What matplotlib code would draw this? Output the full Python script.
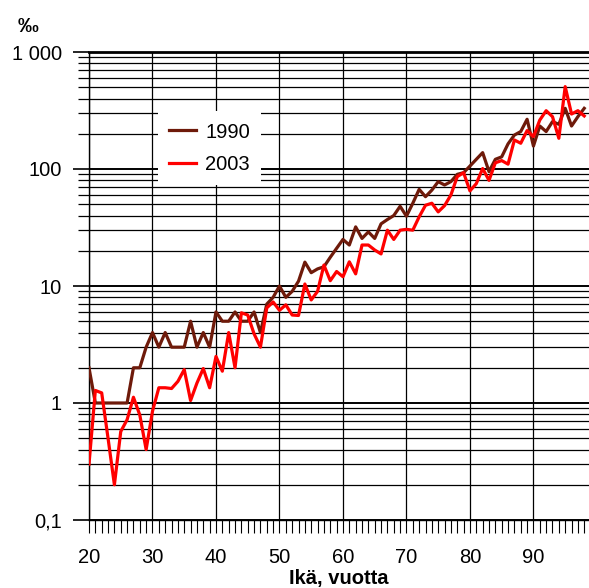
import numpy as np
import matplotlib
matplotlib.use("Agg")
import matplotlib.pyplot as plt
from matplotlib.ticker import FixedLocator, NullFormatter, LogLocator

plt.rcParams['font.family'] = ['Liberation Sans', 'DejaVu Sans']

# Age, years
ages = list(range(20, 99))

# Rate per mille, 1990
rate_1990 = [2, 1, 1, 1, 1, 1, 1, 2, 2, 3,
             4, 3, 4, 3, 3, 3, 5, 3, 4, 3,
             6, 5, 5, 6, 5, 5, 6, 4, 7, 8,
             10, 8, 9, 11, 16, 13, 14, 14.6, 17.6, 21,
             25, 22.4, 32, 25.5, 29, 25.5, 34, 37, 40, 48,
             39.5, 51, 67, 58, 66, 78, 73, 78, 90, 93,
             106, 121, 138, 95, 121, 127, 164, 195, 209, 266,
             157, 233, 209, 254, 241, 330, 233, 280, 330]

# Rate per mille, 2003
rate_2003 = [0.3, 1.28, 1.22, 0.5, 0.2, 0.57, 0.72, 1.12, 0.79, 0.4,
             0.85, 1.35, 1.35, 1.33, 1.53, 1.93, 1.05, 1.48, 1.97, 1.35,
             2.5, 1.87, 4.0, 2.0, 5.9, 5.65, 3.9, 3.0, 6.5, 7.3,
             6.2, 6.9, 5.65, 5.6, 10.4, 7.6, 9.0, 15.1, 11.1, 13.3,
             12.0, 16.1, 12.7, 22.4, 22.4, 20.3, 18.8, 30, 25, 30,
             30.5, 30, 39, 49, 51, 43, 48.6, 60, 86, 93,
             65, 75, 101, 80, 113, 118, 110, 177, 166, 213,
             189, 262, 315, 280, 183, 506, 295, 315, 284]

y_ticks = [0.1, 1, 10, 100, 1000]
y_tick_labels = ['0,1', '1', '10', '100', '1 000']
x_ticks = [20, 30, 40, 50, 60, 70, 80, 90]

fig = plt.figure(figsize=(5.89, 5.88), dpi=100)
ax = fig.add_axes([89 / 589, 1 - 520 / 588, 500 / 589, 468 / 588])

ax.plot(ages, rate_1990, color='#6e1a0a', lw=2.3, label='1990', zorder=3)
ax.plot(ages, rate_2003, color='#ff0000', lw=2.3, label='2003', zorder=3)

ax.set_yscale('log')
ax.set_ylim(0.1, 1000)
ax.set_xlim(20, 98.75)

# y axis: decades + every minor value
ax.yaxis.set_major_locator(FixedLocator(y_ticks))
ax.set_yticklabels(y_tick_labels)
ax.yaxis.set_minor_locator(LogLocator(base=10, subs=np.arange(2, 10)))
ax.yaxis.set_minor_formatter(NullFormatter())
ax.tick_params(axis='y', which='major', length=11.5, width=1.2, pad=8, labelsize=14.5)
ax.tick_params(axis='y', which='minor', length=8, width=0.9)

# x axis: labels every 10, ticks every year
ax.set_xticks(x_ticks)
ax.xaxis.set_minor_locator(FixedLocator([a for a in range(21, 99) if a % 10]))
ax.tick_params(axis='x', which='both', length=9.5, width=0.8, pad=11, labelsize=14.5)

ax.grid(True, which='major', axis='y', color='black', lw=1.4)
ax.grid(True, which='minor', axis='y', color='black', lw=0.9)
ax.grid(True, which='major', axis='x', color='black', lw=0.9)

ax.spines['top'].set_linewidth(2)
ax.spines['right'].set_visible(False)
ax.spines['left'].set_linewidth(1)
ax.spines['bottom'].set_linewidth(1)

ax.set_xlabel('Ikä, vuotta', fontsize=14.5, fontweight='bold', labelpad=1)
fig.text(28 / 589, 1 - 26 / 588, '‰', fontsize=15, fontweight='bold',
         ha='center', va='center')

leg = ax.legend(loc='upper left', bbox_to_anchor=(0.138, 0.873), fontsize=14.5,
                frameon=True, fancybox=False, handlelength=1.35, handletextpad=0.45,
                borderpad=0.55, labelspacing=0.65, borderaxespad=0)
leg.get_frame().set_edgecolor('none')
leg.get_frame().set_facecolor('white')
leg.get_frame().set_alpha(1)

fig.savefig('out.png', dpi=100)
